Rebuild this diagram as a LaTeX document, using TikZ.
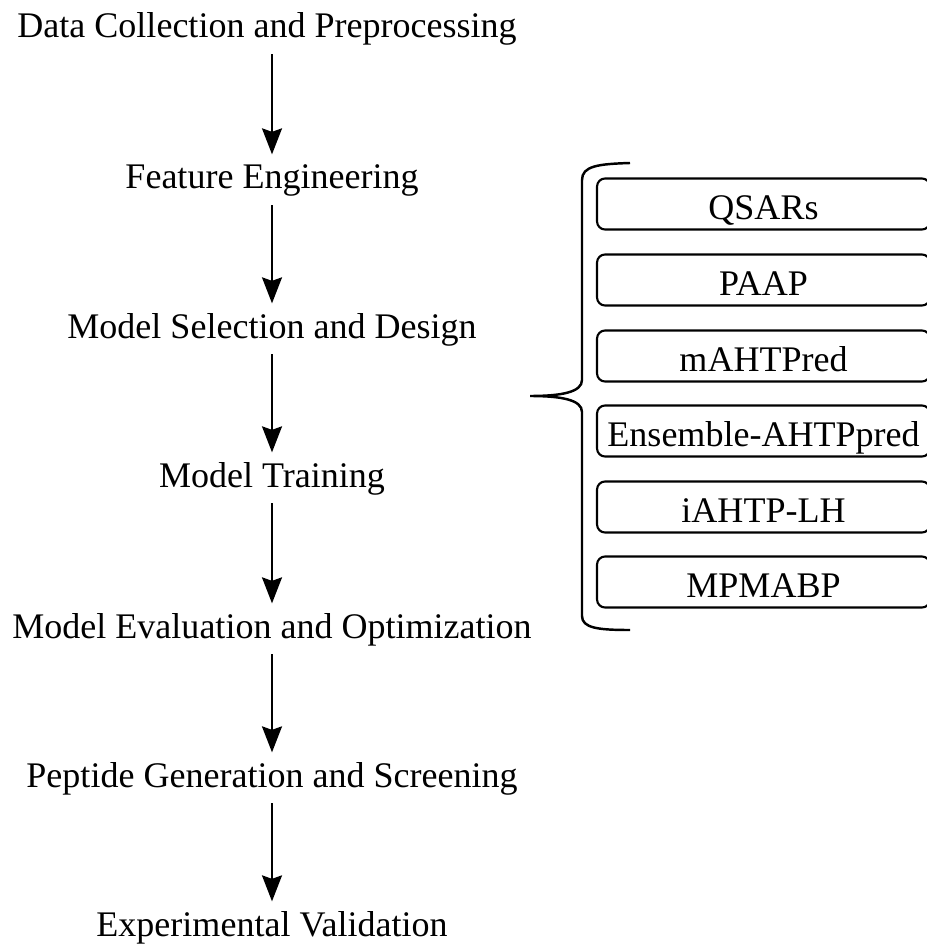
\documentclass[tikz,border=0pt]{standalone}
\usepackage{fontspec}
\setmainfont{Liberation Serif}
\usetikzlibrary{arrows.meta}

\begin{document}
\begin{tikzpicture}[x=0.02cm,y=-0.02cm,
  stage/.style={font=\fontsize{20.5}{24}\selectfont,inner sep=0pt,text height=14.4pt,text depth=5.1pt,anchor=base},
  flow/.style={line width=1.1pt,-{Stealth[length=0.52cm,width=0.4cm,inset=0.07cm]},shorten <=0.14cm,shorten >=0.18cm},
  toolbox/.style={draw,line width=1.2pt,rounded corners=0.16cm,minimum width=6.66cm,minimum height=1.02cm,font=\fontsize{20.5}{24}\selectfont,inner sep=0pt,text height=17.4pt,text depth=0pt}]
\useasboundingbox (0,0) rectangle (926,945);

\node[stage] (data) at (267,38) {Data Collection and Preprocessing};
\node[stage] (feat) at (272,189) {Feature Engineering};
\node[stage] (sel) at (272,338) {Model Selection and Design};
\node[stage] (train) at (272,487) {Model Training};
\node[stage] (eval) at (272,638) {Model Evaluation and Optimization};
\node[stage] (gen) at (272,787) {Peptide Generation and Screening};
\node[stage] (valid) at (272,936) {Experimental Validation};

\draw[flow] (data.south -| feat.north) -- (feat.north);
\draw[flow] (feat) -- (sel);
\draw[flow] (sel) -- (train);
\draw[flow] (train) -- (eval);
\draw[flow] (eval) -- (gen);
\draw[flow] (gen) -- (valid);

\node[toolbox] (qsar) at (763.5,204) {QSARs};
\node[toolbox] (paap) at (763.5,280) {PAAP};
\node[toolbox] (maht) at (763.5,356) {mAHTPred};
\node[toolbox] (ens) at (763.5,431) {Ensemble-AHTPpred};
\node[toolbox] (iaht) at (763.5,507) {iAHTP-LH};
\node[toolbox] (mpm) at (763.5,582) {MPMABP};

\draw[line width=1.4pt] (630,163) .. controls (598,164) and (582,166) .. (582,180) -- (582,380)
  .. controls (582,392) and (562,396) .. (530,396)
  .. controls (562,396) and (582,400) .. (582,412) -- (582,616)
  .. controls (582,628) and (598,630) .. (630,630);
\end{tikzpicture}
\end{document}
